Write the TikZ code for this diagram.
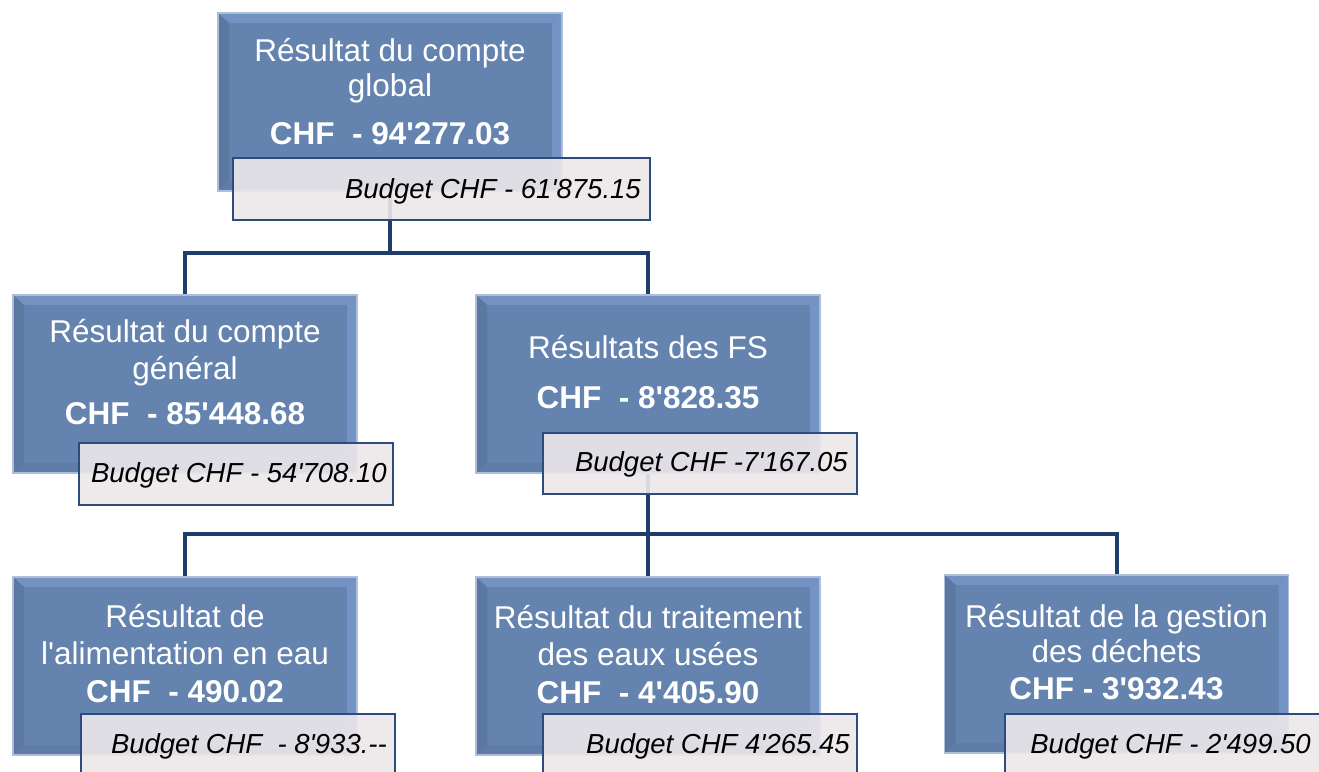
\documentclass[tikz,border=0pt]{standalone}
\usepackage{fontspec}
\setmainfont[Ligatures=TeXOff]{Liberation Sans}
\usetikzlibrary{calc}
\definecolor{boxmain}{HTML}{6483AE}
\definecolor{bevtop}{HTML}{7492C1}
\definecolor{bevleft}{HTML}{5B78A1}
\definecolor{bevright}{HTML}{7494C5}
\definecolor{bevbot}{HTML}{5E7CA7}
\definecolor{boxedge}{HTML}{AEBED8}
\definecolor{navy}{HTML}{1F3D6B}
\definecolor{budgetedge}{HTML}{2C4C7E}
\definecolor{budgetfill}{HTML}{ECE8EA}
\newcommand\tsz{\fontsize{31.5}{36}\selectfont}
\newcommand\bsz{\fontsize{27.5}{32}\selectfont}
\tikzset{
  bluebox/.style={rectangle, inner sep=0pt, minimum width=344pt, minimum height=178pt,
    fill=boxmain, draw=boxedge, line width=1.2pt,
    path picture={
      \path (path picture bounding box.north west) coordinate (pnw)
            (path picture bounding box.north east) coordinate (pne)
            (path picture bounding box.south west) coordinate (psw)
            (path picture bounding box.south east) coordinate (pse);
      \fill[bevtop] (pnw) -- (pne) -- ($(pne)+(-10,10)$) -- ($(pnw)+(11,10)$) -- cycle;
      \fill[bevleft] (pnw) -- ($(pnw)+(11,10)$) -- ($(psw)+(11,-10)$) -- (psw) -- cycle;
      \fill[bevright] (pne) -- ($(pne)+(-10,10)$) -- ($(pse)+(-10,-10)$) -- (pse) -- cycle;
      \fill[bevbot] (psw) -- ($(psw)+(11,-10)$) -- ($(pse)+(-10,-10)$) -- (pse) -- cycle;
    }},
  budgetbox/.style={rectangle, inner sep=0pt, minimum height=62pt, minimum width=314pt,
    draw=budgetedge, line width=2.2pt, fill=budgetfill, fill opacity=0.9},
  wtxt/.style={anchor=base, text=white, inner sep=0pt, font=\tsz},
  wbold/.style={anchor=base, text=white, inner sep=0pt, font=\tsz\bfseries},
  btxt/.style={anchor=base east, text=black, inner sep=0pt, font=\bsz\itshape},
  conn/.style={draw=navy, line width=4pt},
}
\begin{document}
\begin{tikzpicture}[x=1pt, y=-1pt]
\useasboundingbox (0,0) rectangle (1319,771);

% blue boxes
\node[bluebox] (top) at (390,102) {};
\node[bluebox] (l2a) at (185,384) {};
\node[bluebox] (l2b) at (648,384) {};
\node[bluebox] (l3a) at (185,666) {};
\node[bluebox] (l3b) at (648,666) {};
\node[bluebox] (l3c) at (1116.5,664) {};

% texts in blue boxes
\node[wtxt] (top1) at (390,61) {Résultat du compte};
\node[wtxt] (top2) at (390,96) {global};
\node[wbold] (top3) at (390,144) {CHF\ \ - 94'277.03};

\node[wtxt] (l2a1) at (185,342) {Résultat du compte};
\node[wtxt] (l2a2) at (185,379) {général};
\node[wbold] (l2a3) at (185,424) {CHF\ \ - 85'448.68};

\node[wtxt] (l2b1) at (648,358) {Résultats des FS};
\node[wbold] (l2b2) at (648,408) {CHF\ \ - 8'828.35};

\node[wtxt] (l3a1) at (185,627) {Résultat de};
\node[wtxt] (l3a2) at (185,664) {l'alimentation en eau};
\node[wbold] (l3a3) at (185,702) {CHF\ \ - 490.02};

\node[wtxt] (l3b1) at (648,628) {Résultat du traitement};
\node[wtxt] (l3b2) at (648,665) {des eaux usées};
\node[wbold] (l3b3) at (648,703) {CHF\ \ - 4'405.90};

\node[wtxt] (l3c1) at (1116.5,627) {Résultat de la gestion};
\node[wtxt] (l3c2) at (1116.5,662) {des déchets};
\node[wbold] (l3c3) at (1116.5,699) {CHF - 3'932.43};

% connectors
\coordinate (j1) at (390,253);
\coordinate (j2) at (648,534);
\draw[conn] (top.south) -- (j1);
\draw[conn] (j1) -| (l2a.north);
\draw[conn] (j1) -| (l2b.north);
\draw[conn] (l2b.south) -- (j2);
\draw[conn] (j2) -| (l3a.north);
\draw[conn] (j2) -- (l3b.north);
\draw[conn] (j2) -| (l3c.north);

% budget boxes
\node[budgetbox, minimum width=417pt] (btop) at (441.5,189) {};
\node[budgetbox] (bl2a) at (236,474) {};
\node[budgetbox, minimum height=61pt] (bl2b) at (700,463.5) {};
\node[budgetbox, minimum height=72pt] (bl3a) at (238,750) {};
\node[budgetbox, minimum height=72pt] (bl3b) at (700,750) {};
\node[budgetbox, minimum height=72pt, minimum width=330pt] (bl3c) at (1170,750) {};

\node[btxt] (btopt) at (641,198) {Budget CHF - 61'875.15};
\node[btxt] (bl2at) at (387,482) {Budget CHF - 54'708.10};
\node[btxt] (bl2bt) at (848,471) {Budget CHF -7'167.05};
\node[btxt] (bl3at) at (387,753) {Budget CHF\ \ - 8'933.--};
\node[btxt] (bl3bt) at (850,753) {Budget CHF 4'265.45};
\node[btxt] (bl3ct) at (1311,753) {Budget CHF - 2'499.50};
\end{tikzpicture}
\end{document}
